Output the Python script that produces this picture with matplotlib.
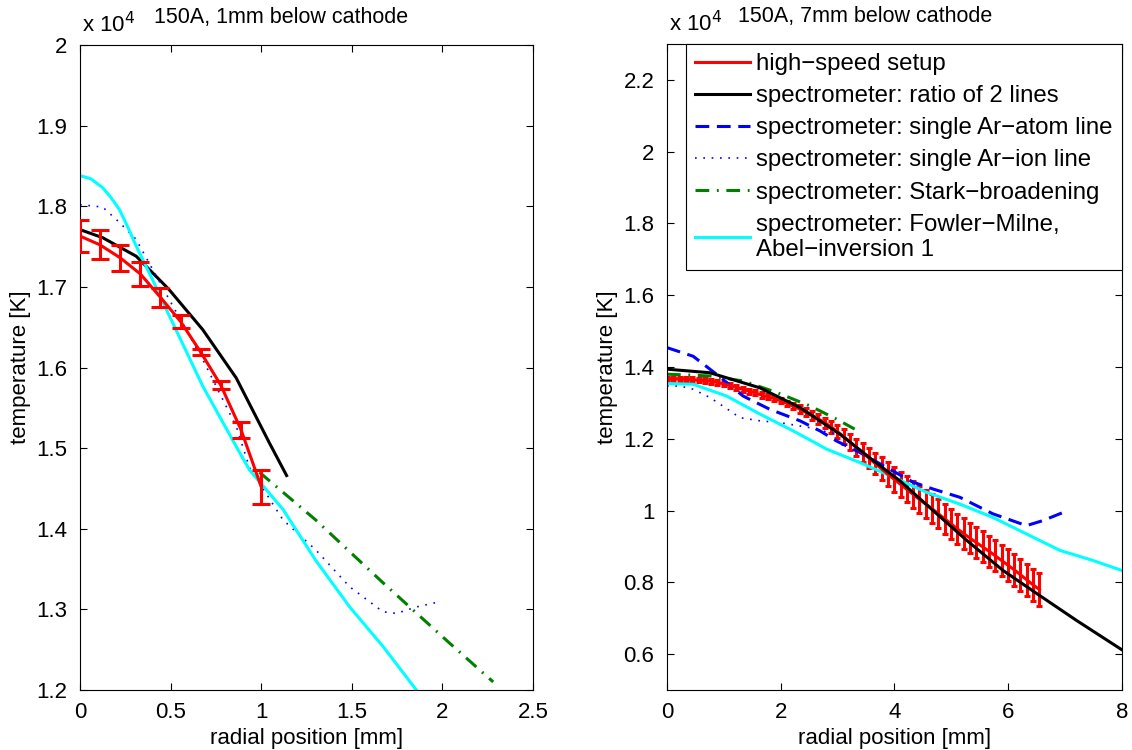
import matplotlib
matplotlib.use('Agg')
import matplotlib.pyplot as plt
from matplotlib.ticker import FuncFormatter
from matplotlib.lines import Line2D
import numpy as np

plt.rcParams['font.family'] = ['Liberation Sans', 'DejaVu Sans']
plt.rcParams['font.size'] = 16

####################### left panel: 1mm below cathode #######################
# high-speed setup (with error bars), temperature in units of 1e4 K
hs1_r = [0.0, 0.111, 0.222, 0.333, 0.444, 0.555, 0.666, 0.777, 0.888, 1.0]
hs1_T = [1.763, 1.752, 1.736, 1.716, 1.687, 1.657, 1.619, 1.578, 1.523, 1.452]
hs1_err = [0.020, 0.018, 0.016, 0.015, 0.012, 0.008, 0.004, 0.005, 0.010, 0.021]

# spectrometer: ratio of 2 lines
rat1_r = [0.0, 0.125, 0.31, 0.49, 0.677, 0.862, 1.046, 1.14]
rat1_T = [1.771, 1.761, 1.738, 1.697, 1.647, 1.587, 1.506, 1.466]

# spectrometer: single Ar-ion line
ion1_r = [0.0, 0.125, 0.217, 0.309, 0.40, 0.493, 0.677, 0.862, 0.935, 1.12,
          1.30, 1.488, 1.672, 1.746, 1.856, 1.995]
ion1_T = [1.802, 1.799, 1.780, 1.759, 1.722, 1.684, 1.610, 1.527, 1.476, 1.411,
          1.374, 1.328, 1.297, 1.295, 1.303, 1.310]

# spectrometer: Stark-broadening
stk1_r = [0.99, 1.30, 1.672, 2.04, 2.28]
stk1_T = [1.470, 1.411, 1.333, 1.258, 1.210]

# spectrometer: Fowler-Milne, Abel-inversion 1
fm1_r = [0.0, 0.06, 0.125, 0.17, 0.217, 0.26, 0.309, 0.40, 0.493, 0.677, 0.862, 0.935, 1.12,
         1.30, 1.488, 1.672, 1.856, 2.0]
fm1_T = [1.838, 1.834, 1.823, 1.811, 1.796, 1.776, 1.751, 1.709, 1.664, 1.577, 1.502, 1.473, 1.424,
         1.361, 1.303, 1.254, 1.200, 1.160]

####################### right panel: 7mm below cathode ######################
hs7_r = [0.000, 0.111, 0.222, 0.333, 0.444, 0.555, 0.666, 0.777, 0.888, 0.999,
         1.110, 1.221, 1.332, 1.443, 1.554, 1.665, 1.776, 1.887, 1.998, 2.109,
         2.220, 2.331, 2.442, 2.553, 2.664, 2.775, 2.886, 2.997, 3.108, 3.219,
         3.330, 3.441, 3.552, 3.663, 3.774, 3.885, 3.996, 4.107, 4.218, 4.329,
         4.440, 4.551, 4.662, 4.773, 4.884, 4.995, 5.106, 5.217, 5.328, 5.439,
         5.550, 5.661, 5.772, 5.883, 5.994, 6.105, 6.216, 6.327, 6.438, 6.549]
hs7_T = [1.366, 1.367, 1.367, 1.366, 1.365, 1.363, 1.362, 1.360, 1.357, 1.353,
         1.348, 1.343, 1.338, 1.333, 1.328, 1.322, 1.317, 1.312, 1.306, 1.299,
         1.291, 1.283, 1.274, 1.265, 1.255, 1.245, 1.233, 1.220, 1.206, 1.191,
         1.176, 1.161, 1.146, 1.131, 1.116, 1.101, 1.087, 1.073, 1.059, 1.045,
         1.031, 1.018, 1.005, 0.991, 0.977, 0.963, 0.949, 0.936, 0.923, 0.911,
         0.899, 0.887, 0.874, 0.861, 0.848, 0.835, 0.821, 0.807, 0.793, 0.780]
hs7_err = [0.006, 0.006, 0.006, 0.006, 0.006, 0.006, 0.006, 0.006, 0.006, 0.006,
           0.007, 0.007, 0.007, 0.007, 0.007, 0.007, 0.007, 0.007, 0.007, 0.007,
           0.009, 0.010, 0.011, 0.012, 0.013, 0.014, 0.016, 0.018, 0.020, 0.022,
           0.024, 0.026, 0.028, 0.030, 0.032, 0.033, 0.034, 0.035, 0.036, 0.037,
           0.038, 0.039, 0.040, 0.040, 0.041, 0.041, 0.042, 0.042, 0.042, 0.042,
           0.043, 0.043, 0.043, 0.043, 0.044, 0.044, 0.044, 0.045, 0.045, 0.045]

rat7_r = [0.0, 0.756, 1.634, 2.34, 3.04, 3.63, 4.095, 4.68, 5.27, 5.91, 6.50, 7.2, 8.0]
rat7_T = [1.394, 1.384, 1.342, 1.287, 1.213, 1.139, 1.083, 1.000, 0.917, 0.833, 0.769, 0.694, 0.612]

atom7_r = [0.0, 0.46, 0.87, 1.34, 1.81, 2.34, 2.69, 2.98, 3.39, 3.86, 4.33, 4.68,
           5.15, 5.73, 6.32, 6.61, 6.97]
atom7_T = [1.454, 1.430, 1.380, 1.319, 1.282, 1.250, 1.222, 1.194, 1.162, 1.120, 1.079, 1.060,
           1.037, 0.991, 0.958, 0.972, 0.995]

ion7_r = [0.0, 0.23, 0.46, 0.756, 1.107, 1.28, 1.634, 1.99, 2.51, 3.0]
ion7_T = [1.347, 1.347, 1.338, 1.315, 1.278, 1.259, 1.250, 1.245, 1.231, 1.212]

stk7_r = [0.0, 0.756, 1.34, 1.93, 2.51, 2.98, 3.30]
stk7_T = [1.380, 1.375, 1.361, 1.329, 1.292, 1.255, 1.227]

fm7_r = [0.0, 0.46, 1.05, 1.634, 2.22, 2.81, 3.39, 3.98, 4.56, 5.15, 5.73, 6.32, 6.91, 7.49, 8.0]
fm7_T = [1.354, 1.352, 1.319, 1.269, 1.222, 1.171, 1.134, 1.093, 1.051, 1.018, 0.981, 0.935,
         0.889, 0.861, 0.833]

legend_labels = ['high\u2212speed setup',
                 'spectrometer: ratio of 2 lines',
                 'spectrometer: single Ar\u2212atom line',
                 'spectrometer: single Ar\u2212ion line',
                 'spectrometer: Stark\u2212broadening',
                 'spectrometer: Fowler\u2212Milne,\nAbel\u2212inversion 1']

lw = 2.2
dash_style = dict(color='blue', lw=lw, linestyle=(0, (4.5, 2.5)))
dot_style = dict(color='blue', lw=1.2, linestyle=(0, (1, 4)))
dashdot_style = dict(color='green', lw=lw, linestyle=(0, (4.5, 2.5, 0.6, 2.5)))
cyan_style = dict(color='cyan', lw=lw)

fig = plt.figure(figsize=(11.32, 7.5), dpi=100)
ax1 = fig.add_axes([0.0707, 0.08, 0.4002, 0.86])
ax2 = fig.add_axes([0.5892, 0.08, 0.4019, 0.8613])

def style_axes(ax):
    ax.tick_params(direction='in', top=True, right=True, length=5, width=0.8, labelsize=16)
    ax.tick_params(axis='y', pad=9)
    ax.tick_params(axis='x', pad=9)
    for s in ax.spines.values():
        s.set_linewidth(0.8)
    ax.xaxis.set_major_formatter(FuncFormatter(lambda v, p: '%g' % v))
    ax.yaxis.set_major_formatter(FuncFormatter(lambda v, p: '%g' % round(v, 3)))
    ax.set_xlabel('radial position [mm]', fontsize=16, labelpad=3)
    ax.set_ylabel('temperature [K]', fontsize=16, labelpad=4)
    ax.annotate('x 10$^{4}$', xy=(0, 1), xycoords='axes fraction', xytext=(2, 13),
                textcoords='offset pixels', fontsize=16, ha='left', va='baseline')

#### left
ax1.plot(rat1_r, rat1_T, color='black', lw=lw)
ax1.plot(ion1_r, ion1_T, **dot_style)
ax1.plot(stk1_r, stk1_T, **dashdot_style)
ax1.plot(fm1_r, fm1_T, **cyan_style)
ax1.errorbar(hs1_r, hs1_T, yerr=hs1_err, color='red', lw=lw, elinewidth=lw,
             capsize=6.5, capthick=lw, zorder=3)
ax1.set_xlim(0, 2.5)
ax1.set_ylim(1.2, 2.0)
ax1.set_xticks([0, 0.5, 1, 1.5, 2, 2.5])
ax1.set_yticks(np.arange(1.2, 2.01, 0.1))
style_axes(ax1)
ax1.set_title('150A, 1mm below cathode', fontsize=15.5, x=0.444, pad=16)

#### right
ax2.errorbar(hs7_r, hs7_T, yerr=hs7_err, color='red', lw=lw, elinewidth=lw,
             capsize=2, capthick=lw, zorder=2)
h_rat, = ax2.plot(rat7_r, rat7_T, color='black', lw=lw, zorder=3)
h_atom, = ax2.plot(atom7_r, atom7_T, **dash_style)
h_ion, = ax2.plot(ion7_r, ion7_T, **dot_style)
h_stk, = ax2.plot(stk7_r, stk7_T, **dashdot_style)
h_fm, = ax2.plot(fm7_r, fm7_T, **cyan_style)
ax2.set_xlim(0, 8)
ax2.set_ylim(0.5, 2.3)
ax2.set_xticks([0, 2, 4, 6, 8])
ax2.set_yticks(np.arange(0.6, 2.21, 0.2))
style_axes(ax2)
ax2.set_title('150A, 7mm below cathode', fontsize=15.5, x=0.435, pad=16)

leg_handles = [Line2D([], [], color='red', lw=lw), h_rat, h_atom, h_ion, h_stk, h_fm]
leg = ax2.legend(leg_handles, legend_labels, loc='upper right', bbox_to_anchor=(1, 1),
                 borderaxespad=0, fontsize=17.3, handlelength=2.3, handletextpad=0.25,
                 labelspacing=0.42, fancybox=False, framealpha=1, edgecolor='black',
                 borderpad=0.38)
leg.get_frame().set_linewidth(0.8)

fig.savefig('out.png', dpi=100)
